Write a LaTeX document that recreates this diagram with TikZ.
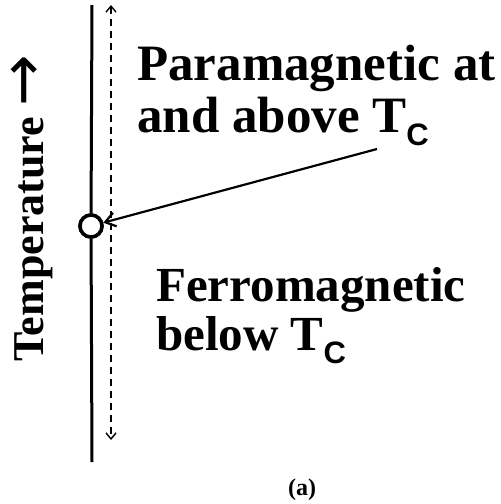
\documentclass[tikz,border=0pt]{standalone}
\usepackage{graphicx}
\usepackage{fontspec}
\setmainfont{Liberation Serif}
\setsansfont{Liberation Sans}
\newfontfamily\arrowfont{DejaVu Sans}
\usetikzlibrary{positioning,arrows.meta}

\tikzset{
  phase/.style={font=\bfseries\fontsize{#1}{#1}\selectfont,inner sep=0pt,anchor=base west},
  phase/.default=50,
  axis/.style={line width=3pt},
  tcpoint/.style={circle,draw,line width=3.5pt,fill=white,minimum size=22pt,inner sep=0pt}
}
\newcommand{\Tc}{T\raisebox{-13pt}{\sffamily\bfseries\fontsize{31}{31}\selectfont C}}

\begin{document}
\begin{tikzpicture}[x=1pt,y=-1pt]
\useasboundingbox (0,0) rectangle (501,504);
% temperature axis
\coordinate (top) at (92,5);
\coordinate (bottom) at (92,462);
\coordinate (dtop) at (111,5);
\coordinate (dbottom) at (111,440);
\node[tcpoint] (tc) at (91,226) {};
\draw[axis] (top) -- (tc) -- (bottom);
\node[tcpoint] at (tc) {};
\draw[line width=1.4pt,dash pattern=on 7pt off 5pt,
      {Straight Barb[length=6pt,width=10pt]}-{Straight Barb[length=6pt,width=10pt]}]
      (dtop) -- (dbottom);
\node[rotate=90,anchor=base,font=\bfseries\fontsize{44}{44}\selectfont,inner sep=0pt] (temp) at (43,208)
  {Temperature {\arrowfont\mdseries\scalebox{1.4}{→}}};

% labels
\node[phase=51] (para1) at (137,80) {Paramagnetic at};
\node[phase=51] (para2) at ([yshift=-52pt]para1.base west) {and above \Tc};
\node[phase=49] (ferro1) at (156,301) {Ferromagnetic};
\node[phase=49] (ferro2) at ([yshift=-49pt]ferro1.base west) {below \Tc};
\coordinate (tcnote) at (377,149);
\draw[line width=2.2pt,-{Straight Barb[length=10pt,width=14pt]}] (tcnote) -- (tc);

\node[font=\bfseries\fontsize{24}{24}\selectfont,inner sep=0pt] (cap) at (302,490) {(a)};
\end{tikzpicture}
\end{document}
